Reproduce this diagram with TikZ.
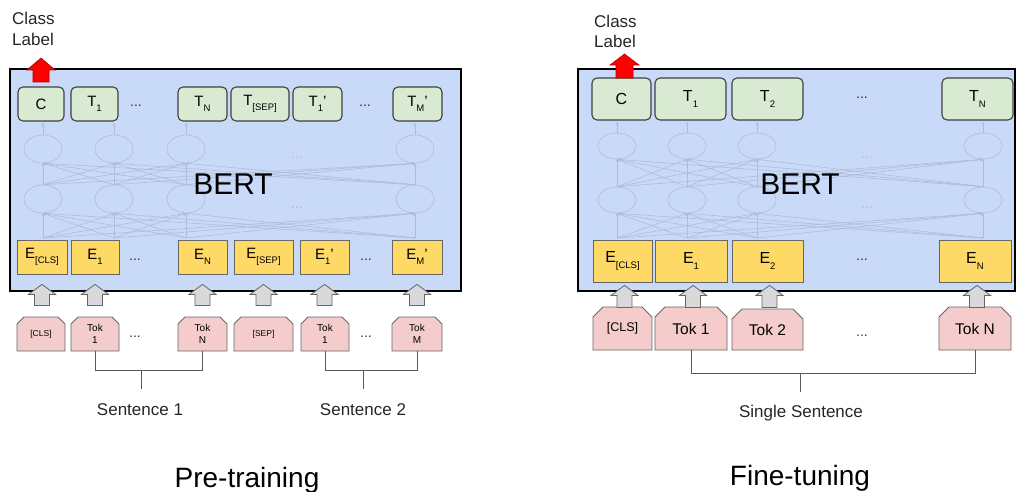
\documentclass[tikz,border=0pt]{standalone}
\usepackage{fontspec}
\setmainfont{Liberation Sans}
\usetikzlibrary{shapes.geometric,shapes.misc,arrows.meta,calc}

\definecolor{bertblue}{HTML}{C9DAF8}
\definecolor{outgreen}{HTML}{D9EAD3}
\definecolor{embyellow}{HTML}{FFD966}
\definecolor{tokpink}{HTML}{F4CCCC}
\definecolor{netgray}{HTML}{ADBCD8}
\definecolor{arrgray}{HTML}{D9D9D9}

\newcommand{\fs}[1]{\fontsize{#1}{#1}\selectfont}
\newcommand{\lowsub}[1]{\raisebox{-0.6ex}{\fs{9.5}#1}}
\newcommand{\tk}[1]{{\fontsize{8.5}{10}\selectfont #1}}

\tikzset{
  bertbox/.style={draw=black, line width=2.5pt, fill=bertblue},
  outbox/.style={draw=black!75, line width=1.1pt, fill=outgreen, rounded corners=5pt, inner sep=0pt},
  embbox/.style={draw=black!60, line width=0.8pt, fill=embyellow, inner sep=0pt},
  tokbox/.style={chamfered rectangle, chamfered rectangle corners={north west,north east},
    chamfered rectangle xsep=3.5pt, chamfered rectangle ysep=3.5pt,
    draw=black!60, line width=0.8pt, fill=tokpink, inner sep=0pt, align=center},
  neuron/.style={ellipse, draw=netgray, line width=0.6pt, fill=bertblue, minimum width=38pt, minimum height=28pt, inner sep=0pt},
  netline/.style={draw=netgray, line width=0.6pt, -{Stealth[length=3pt,width=3pt]}},
  grayarr/.style={draw=black!60, line width=0.8pt, fill=arrgray},
  redarr/.style={draw=red!70!black, line width=0.6pt, fill=red},
  bracket/.style={draw=black!65, line width=1pt},
  dots/.style={font=\fs{14}, text=black!80},
  caption/.style={font=\fs{17}, text=black!85},
}

\begin{document}
\begin{tikzpicture}[x=1pt, y=-1pt, font=\fs{15}]
\useasboundingbox (0,0) rectangle (1018,492);

% ---------------- pre-training ----------------
\draw[bertbox] (10,69) rectangle (461,291);

% faint network
\foreach \i/\x in {1/43,2/114,3/186,4/415} {
  \node[neuron] (lu\i) at (\x,149) {};
  \node[neuron] (ld\i) at (\x,199) {};
  \coordinate (li\i) at (\x,238);
  \coordinate (lo\i) at (\x,123);
}
\foreach \i in {1,...,4} {
  \draw[netline] (lu\i.north) -- (lo\i);
  \foreach \j in {1,...,4} {
    \draw[netline] (ld\i.north) -- (lu\j.south);
    \draw[netline] (li\i) -- (ld\j.south);
  }
}
\node[dots, text=netgray] (ldu) at (297,158) {...};
\node[dots, text=netgray] (ldd) at (297,208) {...};
\node[font=\fs{30}] (lbert) at (233,184) {BERT};

\foreach \n/\x/\w/\t in {lC/41/46/C, lT1/94.5/47/T\lowsub{1}, lTN/202.5/49/T\lowsub{N},
    lTS/260/58/T\lowsub{[SEP]}, lTa/317.5/49/T\lowsub{1}', lTM/417.5/49/T\lowsub{M}'}
  \node[outbox, minimum width=\w pt, minimum height=34pt] (\n) at (\x,104) {\t};
\foreach \n/\x/\w/\t in {lE0/42/50/E\lowsub{[CLS]}, lE1/95/48/E\lowsub{1}, lEN/202.5/49/E\lowsub{N},
    lES/263.5/59/E\lowsub{[SEP]}, lEa/324.5/49/E\lowsub{1}', lEM/417/50/E\lowsub{M}'}
  \node[embbox, minimum width=\w pt, minimum height=34pt] (\n) at (\x,257) {\t};
\foreach \n/\x/\w/\t in {lk0/41/48/\tk{[CLS]}, lk1/95/48/Tok\\1, lkN/202.5/49/Tok\\N,
    lkS/263.5/59/\tk{[SEP]}, lka/325/48/Tok\\1, lkM/417/50/Tok\\M}
  \node[tokbox, font=\fontsize{10}{12}\selectfont, minimum width=\w pt, minimum height=34pt] (\n) at (\x,334) {\t};

\node[dots] (ld1) at (136,106) {...};
\node[dots] (ld2) at (365,106) {...};
\node[dots] (ld3) at (135,260) {...};
\node[dots] (ld4) at (366,260) {...};
\node[dots] (ld5) at (135,337) {...};
\node[dots] (ld6) at (366,337) {...};

\foreach \n in {lE0,lE1,lEN,lES,lEa,lEM}
  \draw[grayarr] ($(\n.south)+(0,10)$) -- ++(13.5,10) -- ++(-6,0) -- ++(0,11)
    -- ++(-15,0) -- ++(0,-11) -- ++(-6,0) -- cycle;

\draw[redarr] (41,58) -- (55,70) -- (49,70) -- (49,82) -- (33,82) -- (33,70) -- (27,70) -- cycle;
\node[caption, anchor=north west, align=left, inner sep=0pt, font=\fontsize{17}{21}\selectfont] (lcls) at (12,11.5) {Class\\Label};

\draw[bracket] (lk1.south) -- ++(0,19) -| (lkN.south);
\draw[bracket] (lka.south) -- ++(0,19) -| (lkM.south);
\coordinate (s1j) at (141,370);
\coordinate (s2j) at (363,370);
\draw[bracket] (s1j) -- ++(0,19);
\draw[bracket] (s2j) -- ++(0,19);
\node[caption, anchor=base] (sen1) at (140,415) {Sentence 1};
\node[caption, anchor=base] (sen2) at (363,415) {Sentence 2};
\node[font=\fs{28}, anchor=base] (pre) at (247,487) {Pre-training};

% ---------------- fine-tuning ----------------
\draw[bertbox] (578,69) rectangle (1015,291);

\foreach \i/\x in {1/617,2/687,3/757,4/983} {
  \node[neuron, minimum height=26pt] (ru\i) at (\x,146) {};
  \node[neuron, minimum height=26pt] (rd\i) at (\x,200) {};
  \coordinate (ri\i) at (\x,238);
  \coordinate (ro\i) at (\x,122);
}
\foreach \i in {1,...,4} {
  \draw[netline] (ru\i.north) -- (ro\i);
  \foreach \j in {1,...,4} {
    \draw[netline] (rd\i.north) -- (ru\j.south);
    \draw[netline] (ri\i) -- (rd\j.south);
  }
}
\node[dots, text=netgray] (rdu) at (867,158) {...};
\node[dots, text=netgray] (rdd) at (867,208) {...};
\node[font=\fs{30}] (rbert) at (800,184) {BERT};

\foreach \n/\x/\w/\t in {rC/621.5/59/C, rT1/690.5/71/T\lowsub{1}, rT2/767.5/71/T\lowsub{2}, rTN/977.5/71/T\lowsub{N}}
  \node[outbox, font=\fs{16}, minimum width=\w pt, minimum height=42pt] (\n) at (\x,99) {\t};
\foreach \n/\x/\w/\t in {rE0/622.5/59/E\lowsub{[CLS]}, rE1/691/72/E\lowsub{1}, rE2/767.5/71/E\lowsub{2}, rEN/975/72/E\lowsub{N}}
  \node[embbox, font=\fs{16}, minimum width=\w pt, minimum height=42pt] (\n) at (\x,261) {\t};
\node[tokbox, chamfered rectangle xsep=5pt, chamfered rectangle ysep=5pt, font=\fs{12.5}, minimum width=59pt, minimum height=43pt] (rk0) at (622.5,328.5) {[CLS]};
\node[tokbox, chamfered rectangle xsep=5pt, chamfered rectangle ysep=5pt, font=\fs{15.5}, minimum width=72pt, minimum height=43pt] (rk1) at (691,328.5) {Tok 1};
\node[tokbox, chamfered rectangle xsep=5pt, chamfered rectangle ysep=5pt, font=\fs{15.5}, minimum width=71pt, minimum height=41pt] (rk2) at (767.5,329.5) {Tok 2};
\node[tokbox, chamfered rectangle xsep=5pt, chamfered rectangle ysep=5pt, font=\fs{15.5}, minimum width=72pt, minimum height=43pt] (rkN) at (975,328.5) {Tok N};

\node[dots] (rd5) at (862,98) {...};
\node[dots] (rd6) at (862,260) {...};
\node[dots] (rd7) at (862,336) {...};

\foreach \n in {rE0,rE1,rE2,rEN}
  \draw[grayarr] ($(\n.south)+(2,3)$) -- ++(13.5,10) -- ++(-6,0) -- ++(0,12)
    -- ++(-15,0) -- ++(0,-12) -- ++(-6,0) -- cycle;

\draw[redarr] (624.5,54) -- (639,65) -- (633,65) -- (633,78) -- (616,78) -- (616,65) -- (610,65) -- cycle;
\node[caption, anchor=north west, align=left, inner sep=0pt, font=\fontsize{17}{20}\selectfont] (rcls) at (594,15) {Class\\Label};

\draw[bracket] (rk1.south) -- ++(0,23) -| (rkN.south);
\coordinate (s3j) at (800,373);
\draw[bracket] (s3j) -- ++(0,19);
\node[caption, anchor=base] (sen3) at (801,417) {Single Sentence};
\node[font=\fs{28}, anchor=base] (fine) at (800,485) {Fine-tuning};
\end{tikzpicture}
\end{document}
